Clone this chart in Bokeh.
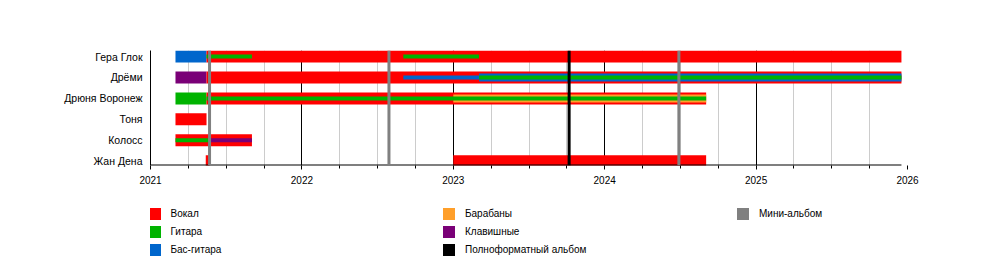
from bokeh.plotting import figure
from bokeh.layouts import column
from bokeh.models import FixedTicker, Legend, LegendItem, Span, Range1d
from bokeh.embed import file_html
from bokeh.resources import INLINE

# ---------------- data ----------------
members = ["Гера Глок", "Дрёми", "Дрюня Воронеж", "Тоня", "Колосс", "Жан Дена"]
roles = ["Вокал", "Гитара", "Бас-гитара", "Барабаны", "Клавишные"]
role_colors = ["#ff0000", "#00b300", "#0066cc", "#ff9f2a", "#7a0077"]

# layer: 0 = main role (full bar), 1 = wide stripe, 2 = thin stripe
period_member = ["Гера Глок", "Гера Глок", "Гера Глок", "Гера Глок",
                 "Дрёми", "Дрёми", "Дрёми", "Дрёми", "Дрёми",
                 "Дрюня Воронеж", "Дрюня Воронеж", "Дрюня Воронеж", "Дрюня Воронеж",
                 "Тоня",
                 "Колосс", "Колосс", "Колосс",
                 "Жан Дена", "Жан Дена"]
period_role = ["Бас-гитара", "Вокал", "Гитара", "Гитара",
               "Клавишные", "Вокал", "Бас-гитара", "Бас-гитара", "Гитара",
               "Гитара", "Вокал", "Барабаны", "Гитара",
               "Вокал",
               "Вокал", "Гитара", "Клавишные",
               "Вокал", "Вокал"]
period_start = [2021.165, 2021.37, 2021.37, 2022.67,
                2021.165, 2021.37, 2022.67, 2023.17, 2023.17,
                2021.165, 2021.37, 2023.0, 2021.37,
                2021.165,
                2021.165, 2021.165, 2021.39,
                2021.365, 2023.0]
period_end = [2021.37, 2025.96, 2021.67, 2023.17,
              2021.37, 2025.96, 2023.17, 2025.96, 2025.96,
              2021.37, 2024.67, 2024.67, 2024.67,
              2021.37,
              2021.67, 2021.39, 2021.67,
              2021.39, 2024.67]
period_layer = [0, 0, 2, 2,
                0, 0, 2, 1, 2,
                0, 0, 1, 2,
                0,
                0, 2, 2,
                0, 0]

mini_albums = [2021.39, 2022.575, 2024.49]
full_albums = [2023.765]
years = [2021, 2022, 2023, 2024, 2025, 2026]
timeline_end = 2025.96

# ---------------- figure ----------------
FONT = "Liberation Sans"
LEFT = 150
y_lo, y_hi = -0.205, 5.29
p = figure(frame_width=757, frame_height=115,
           min_border_left=LEFT, min_border_right=93, min_border_top=50, min_border_bottom=30,
           x_range=Range1d(years[0], years[-1]), y_range=Range1d(y_lo, y_hi),
           output_backend="svg", toolbar_location=None)
p.outline_line_color = None
p.background_fill_color = "white"
p.border_fill_color = "white"

quarters = [y + q / 4 for y in years[:-1] for q in (1, 2, 3)]
p.xaxis.ticker = FixedTicker(ticks=years, minor_ticks=quarters)
p.xaxis.axis_line_color = None
p.xaxis.major_tick_line_color = "black"
p.xaxis.minor_tick_line_color = "black"
p.xaxis.major_tick_in = 0
p.xaxis.major_tick_out = 4
p.xaxis.minor_tick_in = 0
p.xaxis.minor_tick_out = 3
p.xaxis.major_label_standoff = 6
p.xaxis.major_label_text_font = FONT
p.xaxis.major_label_text_font_size = "10px"
p.xaxis.major_label_text_color = "black"

p.xgrid.grid_line_color = "black"
p.xgrid.grid_line_width = 1
p.xgrid.minor_grid_line_color = "#cccccc"
p.ygrid.visible = False

n = len(members)
p.yaxis.ticker = FixedTicker(ticks=list(range(n)))
p.yaxis.major_label_overrides = {i: members[n - 1 - i] for i in range(n)}
p.yaxis.axis_line_color = "black"
p.yaxis.major_tick_line_color = None
p.yaxis.minor_tick_line_color = None
p.yaxis.major_tick_in = 0
p.yaxis.major_tick_out = 0
p.yaxis.major_label_standoff = 8
p.yaxis.major_label_text_font = FONT
p.yaxis.major_label_text_font_size = "10.5px"
p.yaxis.major_label_text_color = "black"

half_heights = [0.287, 0.191, 0.0955]
color_of = dict(zip(roles, role_colors))
for layer in (0, 1, 2):
    idx = [i for i in range(len(period_member)) if period_layer[i] == layer]
    yc = [n - 1 - members.index(period_member[i]) for i in idx]
    p.quad(left=[period_start[i] for i in idx], right=[period_end[i] for i in idx],
           bottom=[y - half_heights[layer] for y in yc], top=[y + half_heights[layer] for y in yc],
           fill_color=[color_of[period_role[i]] for i in idx], line_color=None)

# bottom axis line, ending at the end of the timeline
p.segment(x0=[years[0]], x1=[timeline_end], y0=[y_lo], y1=[y_lo], line_color="black", line_width=2)

for x in mini_albums:
    p.add_layout(Span(location=x, dimension="height", line_color="#808080", line_width=3))
for x in full_albums:
    p.add_layout(Span(location=x, dimension="height", line_color="black", line_width=3))

# ---------------- legend (separate strip below) ----------------
LEG_H = 80
lf = figure(width=1000, height=LEG_H, min_border=0,
            x_range=Range1d(0, 1), y_range=Range1d(0, 1),
            x_axis_location=None, y_axis_location=None,
            output_backend="svg", toolbar_location=None)
lf.outline_line_color = None
lf.xgrid.visible = False
lf.ygrid.visible = False

legend_names = roles + ["Полноформатный альбом", "Мини-альбом"]
legend_colors = role_colors + ["black", "#808080"]
dummy = {}
for name, c in zip(legend_names, legend_colors):
    # swatch-only renderer, placed outside the visible range
    dummy[name] = lf.quad(left=[5], right=[6], top=[6], bottom=[5], fill_color=c, line_color=None)

columns = [["Вокал", "Гитара", "Бас-гитара"],
           ["Барабаны", "Клавишные", "Полноформатный альбом"],
           ["Мини-альбом"]]
col_x = [146.5, 441, 735]
top_gap = 11
for col, vx in zip(columns, col_x):
    h = len(col) * 15 + (len(col) - 1) * 3
    vy = LEG_H - (top_gap + h)
    lg = Legend(items=[LegendItem(label=nm, renderers=[dummy[nm]]) for nm in col],
                location=(vx - LEFT, vy), orientation="vertical",
                glyph_width=15, glyph_height=15, label_height=15, spacing=3,
                padding=0, margin=0, label_standoff=9,
                border_line_color=None, background_fill_alpha=0,
                label_text_font=FONT, label_text_font_size="10px", label_text_color="black")
    lf.add_layout(lg, "center")

layout = column(p, lf, spacing=0)
open("out.html", "w").write(file_html(layout, INLINE))
